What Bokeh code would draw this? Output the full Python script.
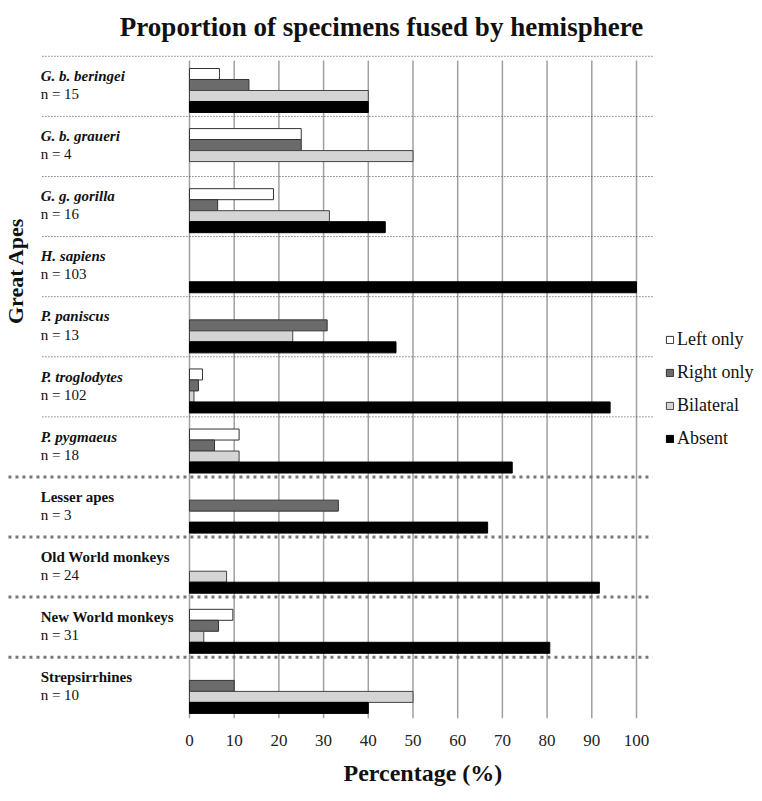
import math
from bokeh.plotting import figure
from bokeh.models import Range1d, FixedTicker, Title, Legend, LegendItem, ColumnDataSource
from bokeh.core.properties import value
from bokeh.embed import file_html
from bokeh.resources import INLINE

# ---------------- data ----------------
groups = ["G. b. beringei", "G. b. graueri", "G. g. gorilla", "H. sapiens", "P. paniscus",
          "P. troglodytes", "P. pygmaeus", "Lesser apes", "Old World monkeys",
          "New World monkeys", "Strepsirrhines"]
n_sizes = [15, 4, 16, 103, 13, 102, 18, 3, 24, 31, 10]
great_ape_count = 7
series = ["Left only", "Right only", "Bilateral", "Absent"]
left_only = [6.7, 25.0, 18.8, 0, 0, 2.9, 11.1, 0, 0, 9.7, 0]
right_only = [13.3, 25.0, 6.3, 0, 30.8, 2.0, 5.6, 33.3, 0, 6.5, 10.0]
bilateral = [40.0, 50.0, 31.3, 0, 23.1, 1.0, 11.1, 0, 8.3, 3.2, 50.0]
absent = [40.0, 0, 43.8, 100.0, 46.2, 94.1, 72.2, 66.7, 91.7, 80.6, 40.0]
x_ticks = [0, 10, 20, 30, 40, 50, 60, 70, 80, 90, 100]

# ---------------- styles ----------------
FONT = "Liberation Serif"
QFONT = "'Liberation Serif'"
fills = ["#ffffff", "#6b6b6b", "#d4d4d4", "#000000"]
edges = ["#333333", "#333333", "#444444", "#000000"]
bar_h = 0.183
top_pad = 0.183

p = figure(width=762, height=801,
           x_range=Range1d(-42.28, 128.19), y_range=Range1d(11.0, -0.05),
           output_backend="svg", toolbar_location=None,
           y_axis_location=None,
           min_border_left=0, min_border_right=0,
           min_border_top=54, min_border_bottom=83)
p.outline_line_color = None
p.grid.visible = False
p.background_fill_color = "white"

# vertical grid lines
p.segment(x0=x_ticks, x1=x_ticks, y0=[0.05] * len(x_ticks), y1=[11.0] * len(x_ticks),
          line_color="#a0a0a0", line_width=1.5)

# separators
n_groups = len(groups)
light = list(range(0, great_ape_count))
heavy = list(range(great_ape_count, n_groups))
p.segment(x0=[-32.9] * len(light), x1=[103.6] * len(light),
          y0=[g - 0.02 for g in light], y1=[g - 0.02 for g in light],
          line_color="#444444", line_width=1, line_dash="1 2")
p.segment(x0=[-40.5] * len(heavy), x1=[103.6] * len(heavy),
          y0=[g - 0.02 for g in heavy], y1=[g - 0.02 for g in heavy],
          line_color="#777777", line_width=3, line_dash="3 4")

# bars
renderers = []
for k, (name, vals) in enumerate(zip(series, [left_only, right_only, bilateral, absent])):
    ys, xs = [], []
    for g, v in enumerate(vals):
        if v > 0:
            ys.append(g + top_pad + bar_h * (k + 0.5))
            xs.append(v)
    src = ColumnDataSource(dict(y=ys, right=xs))
    r = p.hbar(y="y", left=0, right="right", height=bar_h, source=src,
               fill_color=fills[k], line_color=edges[k], line_width=1)
    renderers.append(r)

# group labels
label_x = -33.3
sp = ColumnDataSource(dict(x=[label_x] * great_ape_count,
                           y=[g + 0.31 for g in range(great_ape_count)],
                           t=groups[:great_ape_count]))
p.text(x="x", y="y", text="t", source=sp, text_font=value(QFONT), text_font_size="15px",
       text_font_style="bold italic", text_baseline="middle", text_align="left", text_color="#111111")
so = ColumnDataSource(dict(x=[label_x] * (n_groups - great_ape_count),
                           y=[g + 0.31 for g in range(great_ape_count, n_groups)],
                           t=groups[great_ape_count:]))
p.text(x="x", y="y", text="t", source=so, text_font=value(QFONT), text_font_size="15px",
       text_font_style="bold", text_baseline="middle", text_align="left", text_color="#111111")
sn = ColumnDataSource(dict(x=[label_x] * n_groups,
                           y=[g + 0.61 for g in range(n_groups)],
                           t=["n = %d" % n for n in n_sizes]))
p.text(x="x", y="y", text="t", source=sn, text_font=value(QFONT), text_font_size="15px",
       text_baseline="middle", text_align="left", text_color="#111111")

# "Great Apes" side label
p.text(x=[-39.0], y=[great_ape_count / 2.0 + 0.05], text=["Great Apes"], angle=math.pi / 2,
       text_font=value(QFONT), text_font_size="22px", text_font_style="bold",
       text_align="center", text_baseline="middle", text_color="#111111")

# x axis
ax = p.xaxis[0]
ax.ticker = FixedTicker(ticks=x_ticks)
ax.axis_line_color = None
ax.major_tick_line_color = None
ax.minor_tick_line_color = None
ax.major_tick_out = 0
ax.major_tick_in = 0
ax.major_label_standoff = 16
ax.major_label_text_font = FONT
ax.major_label_text_font_size = "17px"
ax.major_label_text_color = "#222222"

# titles
p.title.text = "Proportion of specimens fused by hemisphere"
p.title.align = "center"
p.title.vertical_align = "top"
p.title.text_font = FONT
p.title.text_font_size = "27px"
p.title.text_font_style = "bold"
p.title.text_color = "#111111"
p.title.standoff = 21

xt = Title(text="Percentage (%)", align="left", offset=343, text_font=FONT,
           text_font_size="24px", text_font_style="bold", text_color="#111111", standoff=19)
p.add_layout(xt, "below")

# legend
legend = Legend(items=[LegendItem(label=s, renderers=[r]) for s, r in zip(series, renderers)],
                location=(665, 269), border_line_color=None, background_fill_alpha=0,
                padding=0, margin=0, spacing=12, glyph_width=9, glyph_height=9,
                label_text_font=QFONT, label_text_font_size="18px", label_standoff=3,
                label_height=20, label_text_color="#111111")
p.add_layout(legend)

open("out.html", "w").write(file_html(p, INLINE))
